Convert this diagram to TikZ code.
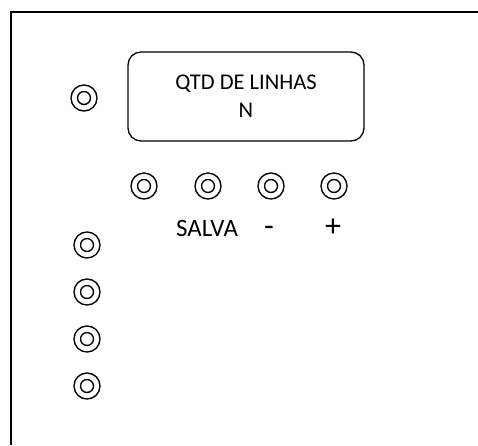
\documentclass[tikz,border=0pt]{standalone}
\usepackage{fontspec}
\setmainfont{Carlito}
\usepackage{tikz}

\begin{document}
\begin{tikzpicture}[x=1pt,y=-1pt]

	\tikzstyle knob=[circle, draw, line width=1.5pt, double, double distance=4.8pt, minimum size=19.5pt, inner sep=0pt];
	\tikzstyle panel lines=[line width=2pt];
	\tikzstyle screen=[draw, line width=1.3pt, rounded corners=13pt, minimum width=236pt, minimum height=89pt, align=center, font=\fontsize{22.5}{28}\selectfont];
	\tikzstyle keytext=[font=\fontsize{25}{25}\selectfont, inner sep=0pt];
	\tikzstyle signtext=[font=\fontsize{32}{32}\selectfont, inner sep=0pt];

	\useasboundingbox (0,0) rectangle (478,445);

	% painel
	\draw[panel lines] (11,445) -- (11,12) -- (478,12);

	% visor
	\node[screen] (visor) at (246,96.5) {QTD DE LINHAS\\N};
	\node[knob] (k0) at (84,98) {};

	% botoes
	\node[knob] (salva) at (144,186) {};
	\node[knob] (b1) at (208,186) {};
	\node[knob] (menos) at (271,186) {};
	\node[knob] (mais) at (334,186) {};
	\node[keytext] (tsalva) at (207,228) {SALVA};
	\node[signtext] (tmenos) at (269,231) {-};
	\node[signtext] (tmais) at (333,228) {+};

	% entradas
	\node[knob] (e1) at (87,245) {};
	\node[knob] (e2) at (87,292) {};
	\node[knob] (e3) at (87,339) {};
	\node[knob] (e4) at (87,386) {};

\end{tikzpicture}
\end{document}
